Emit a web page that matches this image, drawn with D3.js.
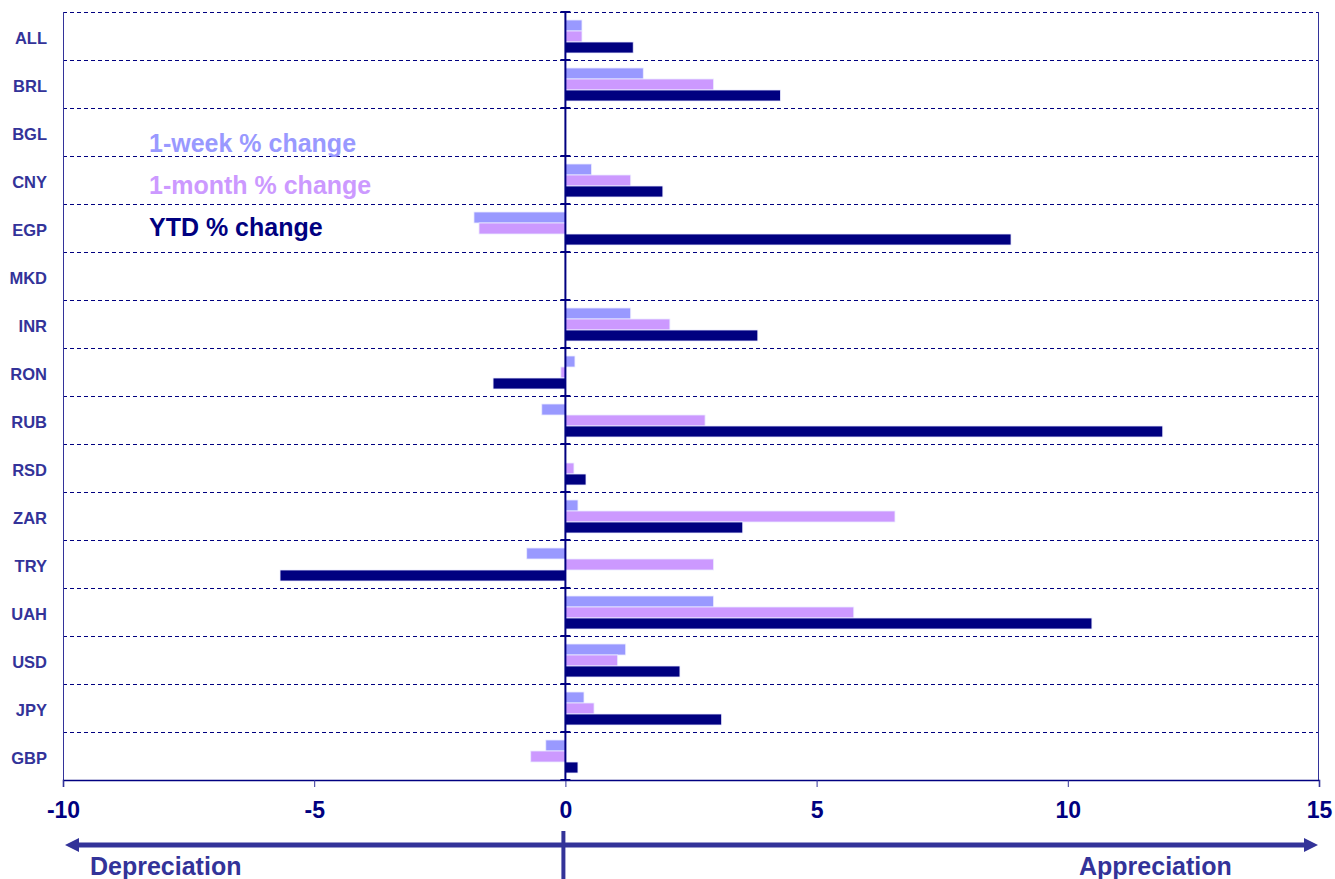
<!DOCTYPE html>
<html>
<head>
<meta charset="utf-8">
<script src="https://cdn.jsdelivr.net/npm/d3@7"></script>
<style>
  body { margin: 0; background: #fff; }
  text { font-family: Arial, "Liberation Sans", sans-serif; font-weight: bold; }
</style>
</head>
<body>
<script>
// currencies, top to bottom
var currencies = ["ALL", "BRL", "BGL", "CNY", "EGP", "MKD", "INR", "RON", "RUB", "RSD", "ZAR", "TRY", "UAH", "USD", "JPY", "GBP"];
var seriesNames = ["1-week % change", "1-month % change", "YTD % change"];
var seriesColors = ["#9999FF", "#CC99FF", "#000080"];

var weekChange  = [0.33, 1.55, 0, 0.52, -1.82, 0, 1.30, 0.19, -0.47, 0, 0.25, -0.77, 2.95, 1.20, 0.37, -0.39];
var monthChange = [0.33, 2.95, 0, 1.30, -1.72, 0, 2.08, -0.09, 2.78, 0.17, 6.56, 2.95, 5.74, 1.04, 0.57, -0.69];
var ytdChange   = [1.35, 4.28, 0, 1.94, 8.87, 0, 3.83, -1.44, 11.89, 0.41, 3.53, -5.68, 10.48, 2.28, 3.11, 0.25];

var xTicks = [-10, -5, 0, 5, 10, 15];

var width = 1335, height = 879;
var plot = {left: 63, right: 1319, top: 12, bottom: 780};
var axisColor = "#000080", labelColor = "#333399";

var svg = d3.select("body")
    .append("svg")
        .attr("width", width)
        .attr("height", height);

var x = d3.scaleLinear().domain([-10, 15]).range([plot.left, plot.right]);
var y = d3.scaleBand().domain(currencies).range([plot.top, plot.bottom]);
var sub = d3.scaleBand().domain(d3.range(3)).range([8, 41]);

var series = [weekChange, monthChange, ytdChange];

// gridlines at category boundaries
var bounds = currencies.map(function(c){ return y(c); });
svg.append("g").selectAll("line")
    .data(bounds)
    .enter().append("line")
        .attr("x1", plot.left).attr("x2", plot.right)
        .attr("y1", function(d){ return d + 0.5; })
        .attr("y2", function(d){ return d + 0.5; })
        .style("stroke", axisColor)
        .style("stroke-width", 1)
        .style("stroke-dasharray", "4,3");

// frame sides
svg.append("line")
    .attr("x1", plot.left + 0.5).attr("x2", plot.left + 0.5)
    .attr("y1", plot.top).attr("y2", plot.bottom)
    .style("stroke", labelColor).style("stroke-width", 1);
svg.append("line")
    .attr("x1", plot.right - 0.5).attr("x2", plot.right - 0.5)
    .attr("y1", plot.top).attr("y2", plot.bottom)
    .style("stroke", labelColor).style("stroke-width", 1);

// bars
series.forEach(function(vals, s){
    svg.append("g").selectAll("rect")
        .data(vals.map(function(v, i){ return {c: currencies[i], v: v}; }).filter(function(d){ return d.v !== 0; }))
        .enter().append("rect")
            .attr("x", function(d){ return x(Math.min(0, d.v)); })
            .attr("y", function(d){ return y(d.c) + sub(s); })
            .attr("width", function(d){ return Math.abs(x(d.v) - x(0)); })
            .attr("height", sub.bandwidth())
            .style("fill", seriesColors[s])
            .style("stroke", "#ececff")
            .style("stroke-width", 0.8);
});

// bottom axis
var xAxis = d3.axisBottom(x).tickValues(xTicks).tickSize(7).tickFormat(d3.format("d"));
var gx = svg.append("g")
    .attr("transform", "translate(0," + plot.bottom + ")")
    .call(xAxis);
gx.select(".domain").style("stroke", axisColor).style("stroke-width", 1.5);
gx.selectAll(".tick line").style("stroke", labelColor);
gx.selectAll(".tick text")
    .attr("dy", "0")
    .attr("y", 38)
    .style("font-size", "23px")
    .style("font-family", "Arial, 'Liberation Sans', sans-serif")
    .style("font-weight", "bold")
    .style("fill", axisColor)
    .text(function(d){ return d < 0 ? "-" + Math.abs(d) : d; });

// zero line with category ticks
svg.append("line")
    .attr("x1", x(0)).attr("x2", x(0))
    .attr("y1", plot.top).attr("y2", plot.bottom)
    .style("stroke", axisColor).style("stroke-width", 2);
svg.append("g").selectAll("line")
    .data(bounds.concat([plot.bottom]))
    .enter().append("line")
        .attr("x1", x(0) - 5).attr("x2", x(0) + 5)
        .attr("y1", function(d){ return d; })
        .attr("y2", function(d){ return d; })
        .style("stroke", axisColor).style("stroke-width", 2);

// category labels
svg.append("g").selectAll("text")
    .data(currencies)
    .enter().append("text")
        .text(function(d){ return d; })
        .attr("x", 47)
        .attr("y", function(d){ return y(d) + y.bandwidth() / 2 + 2; })
        .attr("dy", "0.35em")
        .attr("text-anchor", "end")
        .style("font-size", "16.5px")
        .style("fill", labelColor);

// legend text
svg.append("g").selectAll("text")
    .data(seriesNames)
    .enter().append("text")
        .text(function(d){ return d; })
        .attr("x", 149)
        .attr("y", function(d, i){ return 152 + i * 42; })
        .style("font-size", "25px")
        .style("fill", function(d, i){ return seriesColors[i]; });

// depreciation / appreciation arrow
var arrowY = 845;
var arrowColor = "#333399";
svg.append("line")
    .attr("x1", plot.left + 14).attr("x2", plot.right - 12)
    .attr("y1", arrowY).attr("y2", arrowY)
    .style("stroke", arrowColor).style("stroke-width", 5);
svg.append("path")
    .attr("d", "M" + (plot.left + 2) + "," + arrowY + " L" + (plot.left + 16) + "," + (arrowY - 7) + " L" + (plot.left + 16) + "," + (arrowY + 7) + "Z")
    .style("fill", arrowColor);
svg.append("path")
    .attr("d", "M" + (plot.right - 1) + "," + arrowY + " L" + (plot.right - 15) + "," + (arrowY - 7) + " L" + (plot.right - 15) + "," + (arrowY + 7) + "Z")
    .style("fill", arrowColor);
svg.append("line")
    .attr("x1", x(0) - 2).attr("x2", x(0) - 2)
    .attr("y1", 831).attr("y2", 879)
    .style("stroke", arrowColor).style("stroke-width", 4);

svg.append("text")
    .text("Depreciation")
    .attr("x", 90).attr("y", 875)
    .style("font-size", "25px")
    .style("fill", arrowColor);
svg.append("text")
    .text("Appreciation")
    .attr("x", 1079).attr("y", 875)
    .style("font-size", "25px")
    .style("fill", arrowColor);
</script>
</body>
</html>
